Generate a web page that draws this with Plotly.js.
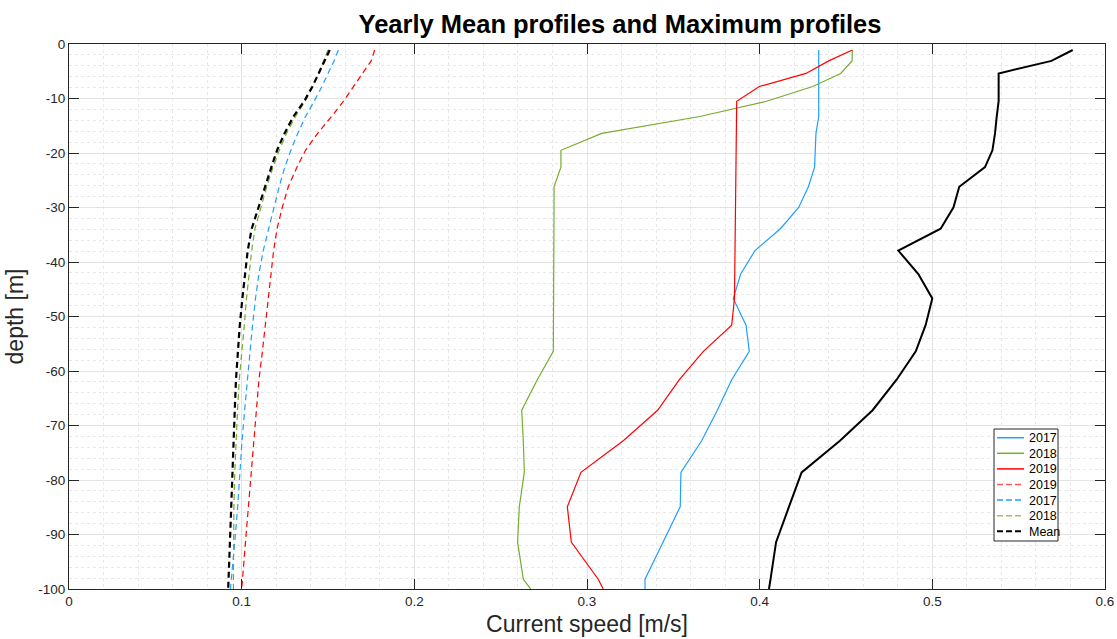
<!DOCTYPE html>
<html>
<head>
<meta charset="utf-8">
<script src="https://cdn.plot.ly/plotly-3.0.1.min.js"></script>
<style>
  html, body { margin: 0; padding: 0; background: #fff; }
  #chart { width: 1117px; height: 639px; }
</style>
</head>
<body>
<div id="chart"></div>
<script>
// Depth levels of the profiles [m]
const depth = [-1.1, -3.1, -5.4, -7.8, -10.5, -13.3, -16.4, -19.5, -22.6, -26.2,
               -30.0, -33.9, -37.9, -42.2, -46.7, -51.6, -56.4, -61.6, -67.2, -72.8,
               -78.6, -84.9, -91.4, -98.2, -100.0];

// Yearly maximum profiles [m/s]
const max2017 = [0.4342, 0.4342, 0.4342, 0.4342, 0.4342, 0.4342, 0.4326, 0.4320, 0.4318, 0.4282,
                 0.4226, 0.4120, 0.3973, 0.3890, 0.3847, 0.3921, 0.3940, 0.3838, 0.3755, 0.3664,
                 0.3544, 0.3540, 0.3438, 0.3336, 0.3336];
const max2018 = [0.4537, 0.4535, 0.4469, 0.4307, 0.4040, 0.3654, 0.3085, 0.2849, 0.2849, 0.2809,
                 0.2809, 0.2809, 0.2808, 0.2807, 0.2806, 0.2806, 0.2805, 0.2712, 0.2622, 0.2631,
                 0.2637, 0.2608, 0.2598, 0.2631, 0.2674];
const max2019 = [0.4537, 0.4400, 0.4268, 0.3998, 0.3867, 0.3866, 0.3865, 0.3864, 0.3863, 0.3862,
                 0.3861, 0.3860, 0.3858, 0.3856, 0.3854, 0.3838, 0.3674, 0.3535, 0.3409, 0.3210,
                 0.2965, 0.2886, 0.2909, 0.3065, 0.3094];
const maxAll  = [0.5813, 0.5690, 0.5384, 0.5384, 0.5384, 0.5373, 0.5363, 0.5348, 0.5305, 0.5156,
                 0.5122, 0.5048, 0.4803, 0.4919, 0.5000, 0.4961, 0.4904, 0.4793, 0.4654, 0.4465,
                 0.4243, 0.4170, 0.4095, 0.4063, 0.4054];

// Yearly mean profiles [m/s]
const mean2019 = [0.1770, 0.1750, 0.1700, 0.1650, 0.1590, 0.1520, 0.1440, 0.1370, 0.1320, 0.1270,
                  0.1235, 0.1205, 0.1185, 0.1170, 0.1155, 0.1140, 0.1120, 0.1100, 0.1085, 0.1070,
                  0.1053, 0.1038, 0.1022, 0.1005, 0.1000];
const mean2017 = [0.1560, 0.1535, 0.1500, 0.1465, 0.1420, 0.1370, 0.1325, 0.1285, 0.1250, 0.1217,
                  0.1187, 0.1156, 0.1125, 0.1100, 0.1080, 0.1063, 0.1048, 0.1033, 0.1017, 0.1002,
                  0.0991, 0.0977, 0.0960, 0.0940, 0.0935];
const mean2018 = [0.1500, 0.1475, 0.1445, 0.1410, 0.1368, 0.1312, 0.1260, 0.1218, 0.1182, 0.1145,
                  0.1110, 0.1077, 0.1058, 0.1042, 0.1028, 0.1015, 0.1000, 0.0986, 0.0976, 0.0967,
                  0.0960, 0.0955, 0.0952, 0.0952, 0.0952];
const meanAll  = [0.1510, 0.1480, 0.1448, 0.1410, 0.1362, 0.1300, 0.1248, 0.1205, 0.1172, 0.1135,
                  0.1100, 0.1058, 0.1035, 0.1018, 0.1004, 0.0989, 0.0978, 0.0967, 0.0960, 0.0953,
                  0.0948, 0.0941, 0.0932, 0.0924, 0.0922];

const xTicks = [0, 0.1, 0.2, 0.3, 0.4, 0.5, 0.6];
const xTickText = ['0', '0.1', '0.2', '0.3', '0.4', '0.5', '0.6'];
const yTicks = [0, -10, -20, -30, -40, -50, -60, -70, -80, -90, -100];
const yTickText = ['0', '-10', '-20', '-30', '-40', '-50', '-60', '-70', '-80', '-90', '-100'];

// Legend entries, in display order
const legendNames = ['2017', '2018', '2019', '2019', '2017', '2018', 'Mean'];

const FONT = 'Liberation Sans, Arial, sans-serif';
const BLUE = '#1f9fff', GREEN = '#77ac30', RED = '#ff0000', BLACK = '#000000';
const DASH = '6px,4px';

function profile(x, name, color, width, dash) {
  return {
    x: x, y: depth, type: 'scatter', mode: 'lines', name: name,
    line: { color: color, width: width, dash: dash || 'solid' },
    showlegend: false, hoverinfo: 'skip'
  };
}

const traces = [
  profile(max2017, '2017', BLUE, 1.2),
  profile(max2018, '2018', GREEN, 1.2),
  profile(max2019, '2019', RED, 1.2),
  profile(mean2019, '2019', RED, 1.2, DASH),
  profile(mean2017, '2017', BLUE, 1.2, DASH),
  profile(mean2018, '2018', GREEN, 1.2, DASH),
  profile(meanAll, 'Mean', BLACK, 2.2, DASH),
  profile(maxAll, 'Max', BLACK, 2)
];

// Compact boxed legend in the lower right of the axes (paper coordinates)
const plotL = 69, plotR = 1105, plotT = 44, plotB = 589;
const px2x = p => (p - plotL) / (plotR - plotL);
const px2y = p => (plotB - p) / (plotB - plotT);
const legendStyles = [
  [BLUE, 1.5, 'solid'], [GREEN, 1.5, 'solid'], [RED, 1.5, 'solid'],
  ['#ff5a5a', 1.5, 'dash'], [BLUE, 1.5, 'dash'], ['#9cc468', 1.5, 'dash'], [BLACK, 2, 'dash']
];
const shapes = [{
  type: 'rect', xref: 'paper', yref: 'paper',
  x0: px2x(994), x1: px2x(1058), y0: px2y(541), y1: px2y(429),
  line: { color: '#262626', width: 1 }, fillcolor: '#ffffff', layer: 'above'
}];
const annotations = [];
legendNames.forEach((name, i) => {
  const yc = 437.7 + i * 15.6;
  const st = legendStyles[i];
  shapes.push({
    type: 'line', xref: 'paper', yref: 'paper',
    x0: px2x(997), x1: px2x(1024), y0: px2y(yc), y1: px2y(yc),
    line: { color: st[0], width: st[1], dash: st[2] === 'dash' ? '6px,3px' : 'solid' }, layer: 'above'
  });
  annotations.push({
    xref: 'paper', yref: 'paper', x: px2x(1026.5), y: px2y(yc + 0.5),
    xanchor: 'left', yanchor: 'middle', showarrow: false, text: name,
    font: { family: FONT, size: 12.5, color: '#000000' }
  });
});

const axisCommon = {
  showline: true, linecolor: '#262626', linewidth: 1, mirror: 'ticks',
  ticks: 'inside', ticklen: 10, tickcolor: '#262626', tickwidth: 1,
  showgrid: true, gridcolor: '#e3e3e3', gridwidth: 1,
  zeroline: false, tickfont: { family: FONT, size: 13.5, color: '#262626' }
};

const layout = {
  width: 1117, height: 639,
  margin: { l: 69, r: 12, t: 44, b: 50 },
  paper_bgcolor: '#ffffff', plot_bgcolor: '#ffffff',
  title: {
    text: '<b>Yearly Mean profiles and Maximum profiles</b>',
    font: { family: FONT, size: 25.5, color: '#000000' },
    x: 620 / 1117, xanchor: 'center', xref: 'container',
    y: 1 - 24 / 639, yanchor: 'middle', yref: 'container'
  },
  xaxis: Object.assign({}, axisCommon, {
    range: [0, 0.6], tickvals: xTicks, ticktext: xTickText,
    minor: { dtick: 0.02, showgrid: true, gridcolor: '#e8e8e8', griddash: 'dot', gridwidth: 1, ticks: '' },
    title: { text: 'Current speed [m/s]', standoff: 7,
             font: { family: FONT, size: 23, color: '#262626' } }
  }),
  yaxis: Object.assign({}, axisCommon, {
    range: [-100, 0], tickvals: yTicks, ticktext: yTickText,
    minor: { dtick: 2, showgrid: true, gridcolor: '#e8e8e8', griddash: 'dot', gridwidth: 1, ticks: '' },
    title: { text: 'depth [m]', standoff: 8,
             font: { family: FONT, size: 23, color: '#262626' } }
  }),
  shapes: shapes,
  annotations: annotations,
  showlegend: false
};

Plotly.newPlot('chart', traces, layout, { displayModeBar: false, staticPlot: true });
</script>
</body>
</html>
